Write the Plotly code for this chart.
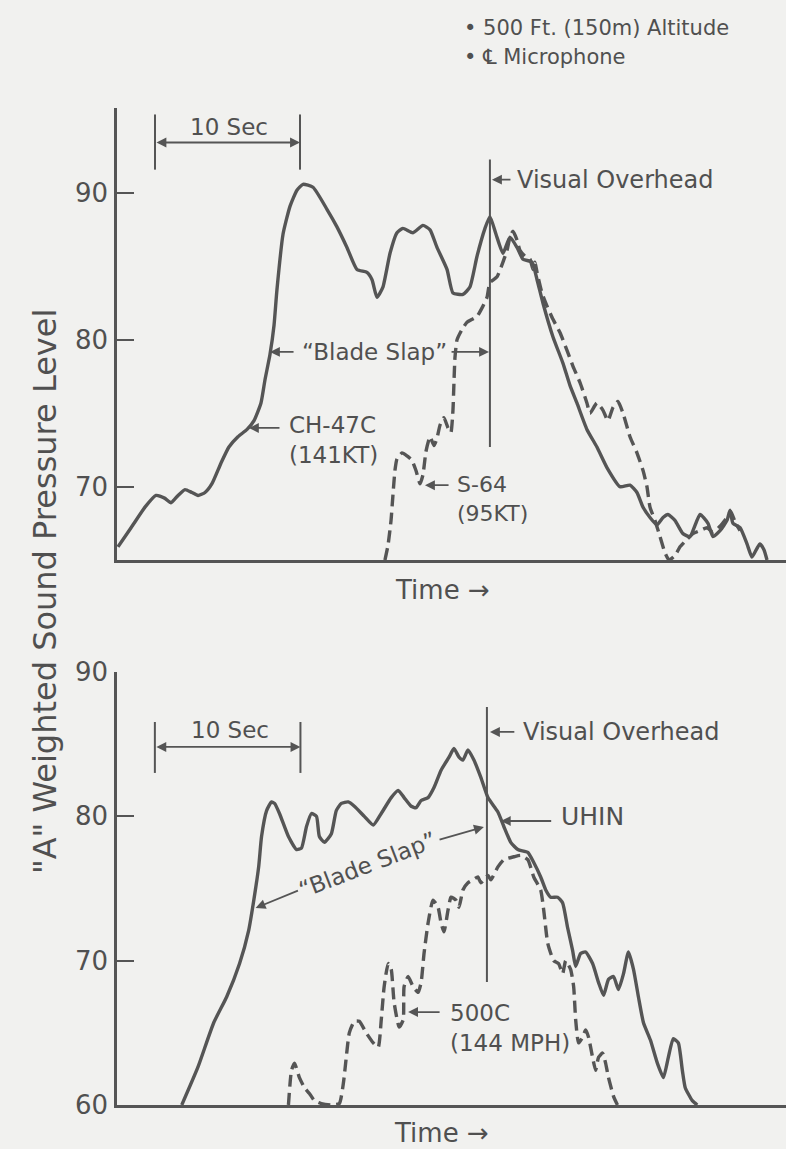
import plotly.graph_objects as go

# ---------------- data (time in seconds, level in dB(A)) ----------------
# Top panel: CH-47C (solid) and S-64 (dashed)
ch47_t = [0.07, 0.97, 1.93, 2.69, 3.31, 3.72, 4.21, 4.69, 5.17, 5.59, 6.07, 6.55, 7.17, 7.72,
          8.34, 8.97, 9.45, 9.93, 10.21, 10.55, 10.83, 11.03, 11.45, 11.93, 12.41, 12.83, 13.52,
          14.48, 15.17, 15.86, 16.55, 17.24, 17.59, 17.93, 18.34, 18.83, 19.31, 19.72, 20.41,
          21.10, 21.59, 22.07, 22.76, 23.17, 23.86, 24.34, 24.83, 25.38, 25.72, 26.14, 26.62,
          27.10, 27.59, 28.00, 28.62, 28.97, 29.38, 30.07, 30.76, 31.24, 31.72, 32.41, 33.10,
          33.79, 34.69, 35.38, 35.86, 36.28, 36.76, 37.24, 37.66, 38.00, 38.48, 39.03, 39.52,
          40.21, 40.76, 41.10, 41.59, 42.07, 42.28, 42.48, 42.97, 43.45, 43.79, 44.14, 44.34,
          44.62, 44.83]
ch47_db = [65.9, 67.2, 68.6, 69.4, 69.2, 68.9, 69.4, 69.8, 69.6, 69.4, 69.6, 70.2, 71.6, 72.7,
           73.4, 73.9, 74.5, 75.7, 77.3, 79.0, 81.0, 83.4, 87.2, 89.1, 90.2, 90.6, 90.4,
           88.9, 87.7, 86.3, 84.8, 84.6, 84.1, 82.9, 83.6, 85.9, 87.3, 87.6, 87.3,
           87.8, 87.5, 86.3, 84.8, 83.2, 83.1, 83.6, 85.7, 87.6, 88.4, 87.2, 85.9,
           87.0, 86.3, 85.5, 85.3, 84.1, 82.5, 80.2, 78.4, 76.9, 75.7, 73.9, 72.7,
           71.3, 70.0, 70.1, 69.6, 68.6, 67.9, 67.4, 67.9, 68.1, 67.7, 66.8, 66.6,
           68.1, 67.5, 66.6, 67.0, 67.7, 68.4, 67.5, 67.2, 66.1, 65.2, 65.8, 66.1,
           65.7, 65.0]

s64_t = [18.48, 18.69, 18.90, 19.03, 19.17, 19.31, 19.66, 20.00, 20.34, 20.62, 20.90, 21.10,
         21.31, 21.59, 21.86, 22.07, 22.28, 22.55, 22.83, 23.03, 23.17, 23.24, 23.31, 23.45,
         23.79, 24.14, 24.83, 25.24, 25.52, 25.72, 26.21, 26.62, 26.90, 27.10, 27.31, 27.59,
         27.79, 28.14, 28.48, 28.69, 28.83, 28.97, 29.31, 29.66, 30.07, 30.55, 31.03, 31.45,
         31.93, 32.41, 32.62, 33.10, 33.52, 33.86, 34.21, 34.55, 34.90, 35.38, 35.86, 36.28,
         36.55, 36.76, 37.10, 37.45, 37.79, 38.07, 38.48, 38.83, 39.31, 39.72, 40.21, 40.69,
         41.10, 41.59, 42.07, 42.34, 42.62, 42.97]
s64_db = [65.0, 66.0, 67.7, 69.4, 71.1, 71.9, 72.3, 72.1, 71.8, 71.1, 70.2, 70.8,
          72.4, 73.4, 72.8, 73.3, 74.2, 74.7, 74.0, 73.7, 75.2, 77.1, 78.8, 80.0,
          80.7, 81.2, 81.6, 82.3, 82.9, 83.9, 84.3, 85.3, 86.1, 87.0, 87.4, 86.8,
          86.1, 85.7, 85.5, 84.8, 85.3, 84.6, 83.2, 82.3, 81.4, 80.5, 79.3, 78.2,
          77.1, 75.7, 75.0, 75.7, 75.2, 74.5, 75.4, 75.8, 75.0, 73.4, 72.3, 71.1,
          70.0, 68.6, 67.7, 66.6, 65.5, 65.0, 65.3, 65.9, 66.4, 66.8, 67.0, 67.2,
          66.9, 67.3, 67.9, 68.3, 67.6, 67.0]

# Bottom panel: UH-1N (solid) and 500C (dashed)
uh1n_t = [4.34, 5.45, 6.55, 7.45, 8.34, 8.97, 9.31, 9.66, 9.86, 10.21, 10.55, 10.76, 11.10,
          11.72, 12.28, 12.62, 12.97, 13.31, 13.66, 13.86, 14.21, 14.69, 15.03, 15.38, 15.86,
          16.28, 16.97, 17.59, 18.14, 18.83, 19.31, 19.72, 20.21, 20.55, 20.90, 21.38, 21.79,
          22.28, 22.83, 23.17, 23.52, 23.79, 24.14, 24.55, 25.03, 25.52, 26.21, 26.62, 27.10,
          27.59, 28.28, 28.69, 29.17, 29.52, 29.86, 30.34, 30.69, 31.03, 31.38, 31.59, 31.93,
          32.28, 32.76, 33.17, 33.52, 33.86, 34.21, 34.55, 34.90, 35.24, 35.59, 35.93, 36.28,
          36.76, 37.24, 37.66, 38.00, 38.34, 38.69, 38.97, 39.17, 39.66, 40.00]
uh1n_db = [60.0, 62.6, 65.7, 67.5, 69.8, 72.1, 74.1, 76.5, 78.6, 80.4, 81.0, 80.9, 80.2,
           78.6, 77.7, 77.8, 79.3, 80.2, 80.0, 78.6, 78.2, 78.8, 80.4, 80.9, 81.0,
           80.7, 80.0, 79.4, 80.2, 81.3, 81.8, 81.3, 80.7, 80.6, 81.1, 81.3, 82.0,
           83.2, 84.1, 84.7, 84.1, 83.9, 84.6, 83.9, 82.7, 81.3, 80.3, 79.3, 78.2,
           77.7, 77.5, 76.8, 75.8, 74.9, 74.4, 74.4, 74.0, 72.3, 70.7, 69.6, 70.5,
           70.6, 69.8, 68.5, 67.6, 68.7, 68.9, 68.0, 69.1, 70.6, 69.4, 67.5, 65.7,
           64.5, 62.9, 61.9, 63.3, 64.6, 64.3, 62.4, 61.2, 60.3, 60.0]

h500_t = [11.72, 11.93, 12.14, 12.48, 12.83, 13.17, 13.52, 14.00, 14.69, 15.24, 15.52, 15.72,
          15.93, 16.28, 16.62, 17.10, 17.59, 17.93, 18.14, 18.34, 18.62, 18.83, 19.03, 19.38,
          19.66, 19.72, 20.00, 20.34, 20.69, 20.90, 21.10, 21.38, 21.72, 22.07, 22.28, 22.48,
          22.76, 22.97, 23.31, 23.52, 23.79, 24.14, 24.48, 24.83, 25.03, 25.52, 25.72, 26.21,
          26.62, 27.31, 27.79, 28.28, 28.69, 29.17, 29.38, 29.66, 30.07, 30.41, 30.69, 30.90,
          31.24, 31.45, 31.59, 31.79, 32.07, 32.28, 32.48, 32.76, 32.97, 33.17, 33.45, 33.66,
          33.86, 34.21, 34.48]
h500_db = [60.0, 62.4, 62.9, 61.9, 61.2, 60.8, 60.3, 60.1, 60.0, 60.1, 61.5, 63.3,
           65.0, 65.8, 65.8, 65.0, 64.3, 64.0, 65.9, 68.2, 69.8, 69.4, 67.1, 65.4,
           65.9, 68.2, 68.9, 68.2, 67.8, 68.5, 70.5, 72.6, 74.2, 73.7, 72.6, 72.0,
           73.5, 74.4, 74.2, 73.7, 74.9, 75.4, 75.6, 75.8, 75.4, 75.9, 75.6, 76.5,
           77.0, 77.2, 77.3, 77.0, 75.8, 74.9, 73.5, 71.2, 70.0, 69.8, 69.1, 70.0,
           69.4, 68.2, 65.9, 64.3, 64.7, 65.2, 64.7, 63.3, 62.4, 63.3, 63.6, 62.9,
           61.9, 60.6, 60.0]

top_ticks = [70, 80, 90]
bottom_ticks = [60, 70, 80, 90]

# ---------------- style ----------------
INK = "#555555"
TXT = "#505050"
BG = "#f1f1ef"
FONT = "DejaVu Sans, Liberation Sans, Arial, sans-serif"
LW = 3.4

fig = go.Figure()
line_common = dict(color=INK, width=LW, shape="spline", smoothing=0.5)
fig.add_trace(go.Scatter(x=ch47_t, y=ch47_db, mode="lines", line=line_common,
                         xaxis="x", yaxis="y", name="CH-47C"))
fig.add_trace(go.Scatter(x=s64_t, y=s64_db, mode="lines",
                         line=dict(line_common, dash="12px,6px"),
                         xaxis="x", yaxis="y", name="S-64"))
fig.add_trace(go.Scatter(x=uh1n_t, y=uh1n_db, mode="lines", line=line_common,
                         xaxis="x2", yaxis="y2", name="UH-1N"))
fig.add_trace(go.Scatter(x=h500_t, y=h500_db, mode="lines",
                         line=dict(line_common, dash="12px,6px"),
                         xaxis="x2", yaxis="y2", name="500C"))

W, H = 786, 1149
L = 117
PW = W - L


def px_x(p):
    return (p - L) / PW


def px_y(p):
    return 1 - p / H


xcommon = dict(showgrid=False, zeroline=False, showticklabels=False, ticks="",
               showline=True, linecolor=INK, linewidth=2.5, automargin=False)
ycommon = dict(showgrid=False, zeroline=False, showline=True, linecolor=INK, linewidth=2.5,
               ticks="inside", ticklen=17, tickwidth=2, tickcolor=INK, automargin=False,
               tickfont=dict(size=26, color=TXT, family=FONT), ticklabelstandoff=1)

fig.update_layout(
    width=W, height=H,
    margin=dict(l=L, r=0, t=0, b=0, autoexpand=False),
    paper_bgcolor=BG, plot_bgcolor=BG,
    showlegend=False,
    font=dict(family=FONT, color=TXT),
    xaxis=dict(xcommon, domain=[0, 1], range=[0, 46.14], anchor="y"),
    yaxis=dict(ycommon, domain=[0.5126, 0.9060], range=[65.0, 95.8], anchor="x",
               tickvals=top_ticks),
    xaxis2=dict(xcommon, domain=[0, 1], range=[-0.14, 46.14], anchor="y2"),
    yaxis2=dict(ycommon, domain=[0.0383, 0.4151], range=[60, 90], anchor="x2",
                tickvals=bottom_ticks),
)

shapes = []
ann = []


def vline(xr, yr, x, y0, y1, w=2):
    shapes.append(dict(type="line", xref=xr, yref=yr, x0=x, x1=x, y0=y0, y1=y1,
                       line=dict(color=INK, width=w)))


def arrow(xr, yr, x0, y0, x1, y1, both=False):
    ann.append(dict(xref=xr, yref=yr, axref=xr, ayref=yr, x=x1, y=y1, ax=x0, ay=y0,
                    text="", showarrow=True, arrowhead=2, arrowsize=1.1, arrowwidth=1.8,
                    arrowcolor=INK, arrowside="end+start" if both else "end"))


def label(xr, yr, x, y, text, size=23, anchor="left", angle=0):
    ann.append(dict(xref=xr, yref=yr, x=x, y=y, text=text, showarrow=False,
                    xanchor=anchor, yanchor="middle", textangle=angle, align="left",
                    font=dict(size=size, color=TXT, family=FONT)))


# ---- top panel annotations ----
vline("x", "y", 2.62, 91.6, 95.36)
vline("x", "y", 12.62, 91.6, 95.36)
arrow("x", "y", 2.62, 93.45, 12.62, 93.45, both=True)
label("x", "y", 7.72, 94.5, "10 Sec", anchor="center")
vline("x", "y", 25.72, 72.70, 92.29)
arrow("x", "y", 27.24, 90.92, 25.86, 90.92)
label("x", "y", 27.45, 90.92, "Visual Overhead", size=24)
label("x", "y", 17.79, 79.18, "\u201cBlade Slap\u201d", anchor="center")
arrow("x", "y", 12.28, 79.18, 10.55, 79.18)
arrow("x", "y", 22.97, 79.18, 25.66, 79.18)
label("x", "y", 11.72, 73.17, "CH-47C<br>(141KT)")
arrow("x", "y", 11.31, 74.0, 9.10, 74.0)
label("x", "y", 23.31, 69.15, "S-64<br>(95KT)", size=22)
arrow("x", "y", 22.97, 70.10, 21.24, 70.10)

# ---- bottom panel annotations ----
vline("x2", "y2", 2.48, 83.01, 86.54)
vline("x2", "y2", 12.55, 83.01, 86.54)
arrow("x2", "y2", 2.48, 84.81, 12.55, 84.81, both=True)
label("x2", "y2", 7.66, 85.99, "10 Sec", anchor="center")
vline("x2", "y2", 25.45, 68.52, 87.58)
arrow("x2", "y2", 27.45, 85.85, 25.66, 85.85)
label("x2", "y2", 27.79, 85.85, "Visual Overhead", size=24)
arrow("x2", "y2", 30.0, 79.68, 26.41, 79.68)
label("x2", "y2", 30.41, 79.96, "UHIN", size=25)
label("x2", "y2", 17.17, 76.63, "\u201cBlade Slap\u201d", anchor="center", angle=-21)
arrow("x2", "y2", 12.48, 74.90, 9.45, 73.65)
arrow("x2", "y2", 22.07, 78.36, 25.24, 79.27)
label("x2", "y2", 22.76, 65.34, "500C<br>(144 MPH)")
arrow("x2", "y2", 22.28, 66.44, 20.0, 66.44)

# ---- paper-level texts ----
label("paper", "paper", px_x(393), px_y(590), "Time \u2192", size=26)
label("paper", "paper", px_x(392), px_y(1133), "Time \u2192", size=26)
label("paper", "paper", px_x(462), px_y(28), "\u2022 500 Ft. (150m) Altitude", size=21)
label("paper", "paper", px_x(462), px_y(57), "\u2022 \u2104 Microphone", size=21)
label("paper", "paper", px_x(45), px_y(592), "\"A\" Weighted Sound Pressure Level",
      size=32, anchor="center", angle=-90)

fig.update_layout(shapes=shapes, annotations=ann)
fig.write_html(
    "out.html",
    config={"responsive": False, "displayModeBar": False},
    post_script="document.body.style.margin='0';document.body.style.padding='0';"
                "document.body.style.overflow='hidden';"
                "document.documentElement.style.background='" + BG + "';",
)
